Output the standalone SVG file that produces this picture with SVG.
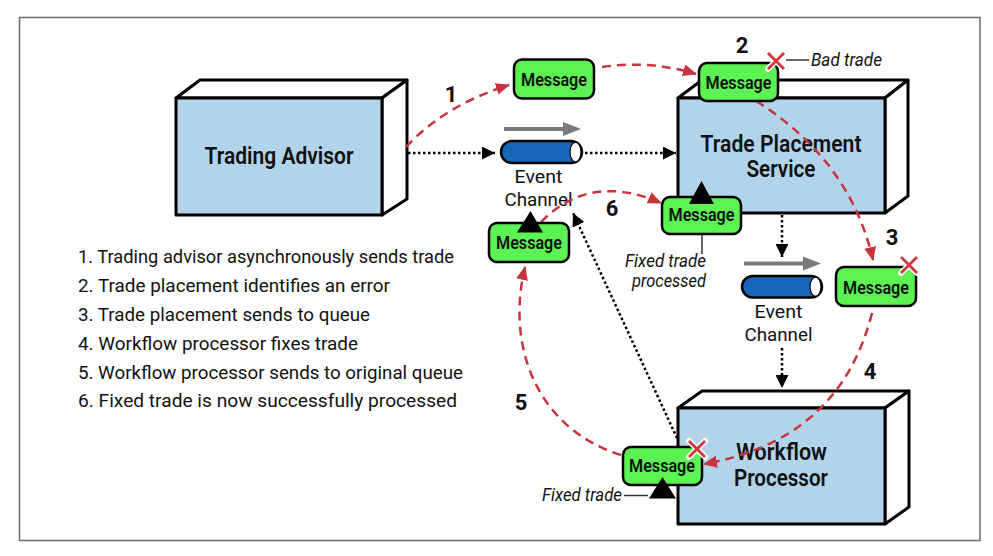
<svg xmlns="http://www.w3.org/2000/svg" width="993" height="556" viewBox="0 0 993 556">
<defs>
<style>
.box{fill:#b2d4ea;stroke:#000;stroke-width:3;stroke-linejoin:round}
.face{fill:#fff;stroke:#000;stroke-width:3;stroke-linejoin:round}
.lbl{font-family:Roboto,"Liberation Sans",sans-serif;font-weight:600;font-size:23px;fill:#111;text-anchor:middle}
.msg{fill:#5cf253;stroke:#000;stroke-width:2.5}
.mt{font-family:Roboto,"Liberation Sans",sans-serif;font-weight:600;font-size:19px;fill:#111;text-anchor:middle}
.ch{font-family:Roboto,"Liberation Sans",sans-serif;font-size:19px;fill:#111;text-anchor:middle}
.num{font-family:Roboto,"Liberation Sans",sans-serif;font-weight:700;font-size:22px;fill:#111;text-anchor:middle}
.it{font-family:Roboto,"Liberation Sans",sans-serif;font-style:italic;font-size:18px;fill:#111}
.list{font-family:Roboto,"Liberation Sans",sans-serif;font-size:18px;fill:#111}
.red{fill:none;stroke:#c9343c;stroke-width:2.5;stroke-dasharray:9 6;marker-end:url(#ra)}
.dot{fill:none;stroke:#000;stroke-width:2.5;stroke-dasharray:2.5 2.5;marker-end:url(#ba)}
.pipe{fill:#1766b8;stroke:#000;stroke-width:2.5}
.xw{stroke:#fff;stroke-width:6;stroke-linecap:round}
.xr{stroke:#d2363f;stroke-width:2.8}
.call{stroke:#333;stroke-width:1.5}
.garrow{stroke:#7a7a7a;stroke-width:4}
</style>
<marker id="ra" viewBox="0 0 14 12" refX="13" refY="6" markerWidth="14" markerHeight="12" markerUnits="userSpaceOnUse" orient="auto">
<path d="M0,0 L14,6 L0,12 z" fill="#c9343c"/>
</marker>
<marker id="ba" viewBox="0 0 13 13" refX="13" refY="6.5" markerWidth="13" markerHeight="13" markerUnits="userSpaceOnUse" orient="auto">
<path d="M0,0 L13,6.5 L0,13 z" fill="#000"/>
</marker>
</defs>
<rect x="0" y="0" width="993" height="556" fill="#fff"/>
<rect x="19.5" y="17.5" width="960.5" height="523" fill="none" stroke="#6d6d6d" stroke-width="1.5"/>

<g id="trading-advisor">
<polygon class="face" points="176,98 200,80 407,80 382,98"/>
<polygon class="face" points="382,98 407,80 407,199 382,215"/>
<rect class="box" x="176" y="98" width="206" height="117"/>
<text class="lbl" x="279" y="164" font-size="26" textLength="149" lengthAdjust="spacingAndGlyphs">Trading Advisor</text>
</g>

<g id="trade-placement">
<polygon class="face" points="678,98 702,80 908,80 885,98"/>
<polygon class="face" points="885,98 908,80 908,196 885,213"/>
<rect class="box" x="678" y="98" width="207" height="115"/>
<text class="lbl" x="781" y="152" textLength="161" lengthAdjust="spacingAndGlyphs">Trade Placement</text>
<text class="lbl" x="781" y="177" textLength="69" lengthAdjust="spacingAndGlyphs">Service</text>
</g>

<g id="workflow-processor">
<polygon class="face" points="678,408 702,391 909,391 885,408"/>
<polygon class="face" points="885,408 909,391 909,507 885,524"/>
<rect class="box" x="678" y="408" width="207" height="116"/>
<text class="lbl" x="781.5" y="460" textLength="91" lengthAdjust="spacingAndGlyphs">Workflow</text>
<text class="lbl" x="781" y="486" textLength="94" lengthAdjust="spacingAndGlyphs">Processor</text>
</g>

<g id="event-channel-1">
<line class="garrow" x1="504" y1="129" x2="566" y2="129"/>
<polygon points="563,122 581,129 563,136" fill="#7a7a7a"/>
<rect class="pipe" x="501" y="141" width="81" height="22" rx="11"/>
<ellipse cx="575.5" cy="152" rx="5.5" ry="9.8" fill="#fff" stroke="#000" stroke-width="1.2"/>
<text class="ch" x="538.5" y="183" textLength="48" lengthAdjust="spacingAndGlyphs">Event</text>
<text class="ch" x="538.5" y="206" textLength="68" lengthAdjust="spacingAndGlyphs">Channel</text>
</g>

<g id="event-channel-2">
<line class="garrow" x1="744" y1="263.5" x2="806" y2="263.5"/>
<polygon points="803,256.5 821,263.5 803,270.5" fill="#7a7a7a"/>
<rect class="pipe" x="742" y="276" width="80" height="21.5" rx="10.75"/>
<ellipse cx="815.5" cy="286.75" rx="5.5" ry="9.5" fill="#fff" stroke="#000" stroke-width="1.2"/>
<text class="ch" x="778.5" y="317.5" textLength="48" lengthAdjust="spacingAndGlyphs">Event</text>
<text class="ch" x="778.5" y="340.5" textLength="68" lengthAdjust="spacingAndGlyphs">Channel</text>
</g>

<g id="connectors">
<path class="dot" d="M408,153 L495,153"/>
<path class="dot" d="M585,153 L676,153"/>
<path class="dot" d="M782,215 L782,257"/>
<path class="dot" d="M782,348 L782,388"/>
<path class="dot" d="M677,438 L573,213"/>
<path class="red" d="M406,147 Q445,105 509,85"/>
<path class="red" d="M602,67 Q650,60 696,74"/>
<path class="red" d="M756,101 Q850,160 873,260"/>
<path class="red" d="M872,313 Q840,440 704,464"/>
<path class="red" d="M621,455 C540,430 505,350 525,267"/>
<path class="red" d="M541,222 Q590,172 661,203"/>
</g>

<g id="message-1">
<rect class="msg" x="514" y="59.5" width="80" height="39" rx="8"/>
<text class="mt" x="554" y="86" textLength="66" lengthAdjust="spacingAndGlyphs">Message</text>
</g>

<g id="message-2">
<rect class="msg" x="699" y="63" width="79" height="38" rx="8"/>
<text class="mt" x="738.5" y="88.5" textLength="66" lengthAdjust="spacingAndGlyphs">Message</text>
<line class="xw" x1="768" y1="53" x2="784" y2="69"/>
<line class="xw" x1="784" y1="53" x2="768" y2="69"/>
<line class="xr" x1="768" y1="53" x2="784" y2="69"/>
<line class="xr" x1="784" y1="53" x2="768" y2="69"/>
<line class="call" x1="786" y1="60" x2="809" y2="60"/>
<text class="it" x="811" y="66" textLength="71" lengthAdjust="spacingAndGlyphs">Bad trade</text>
</g>

<g id="message-3">
<rect class="msg" x="836" y="267" width="80" height="39" rx="8"/>
<text class="mt" x="876" y="293.5" textLength="66" lengthAdjust="spacingAndGlyphs">Message</text>
<line class="xw" x1="901" y1="257" x2="917" y2="273"/>
<line class="xw" x1="917" y1="257" x2="901" y2="273"/>
<line class="xr" x1="901" y1="257" x2="917" y2="273"/>
<line class="xr" x1="917" y1="257" x2="901" y2="273"/>
</g>

<g id="message-fixed-processed">
<rect class="msg" x="662" y="197" width="79" height="37" rx="8"/>
<polygon points="701.5,181 689,204 714,204" fill="#000"/>
<text class="mt" x="701.5" y="221" textLength="66" lengthAdjust="spacingAndGlyphs">Message</text>
<line class="call" x1="702" y1="235" x2="702" y2="254"/>
<text class="it" x="706" y="266.5" font-size="15" text-anchor="end" textLength="81" lengthAdjust="spacingAndGlyphs">Fixed trade</text>
<text class="it" x="706" y="286.5" font-size="15" text-anchor="end" textLength="74" lengthAdjust="spacingAndGlyphs">processed</text>
</g>

<g id="message-left">
<rect class="msg" x="489" y="223" width="80" height="39" rx="8"/>
<polygon points="530.5,211 517,232.5 543,232.5" fill="#000"/>
<text class="mt" x="529" y="248.5" textLength="66" lengthAdjust="spacingAndGlyphs">Message</text>
</g>

<g id="message-workflow">
<rect class="msg" x="623" y="447" width="79" height="38" rx="8"/>
<text class="mt" x="662" y="472" textLength="66" lengthAdjust="spacingAndGlyphs">Message</text>
<polygon points="662.5,477 649,498.5 676,498.5" fill="#000"/>
<line class="xw" x1="689" y1="441" x2="705" y2="457"/>
<line class="xw" x1="705" y1="441" x2="689" y2="457"/>
<line class="xr" x1="689" y1="441" x2="705" y2="457"/>
<line class="xr" x1="705" y1="441" x2="689" y2="457"/>
<line class="call" x1="624" y1="495.5" x2="648" y2="495.5"/>
<text class="it" x="542" y="501" textLength="80" lengthAdjust="spacingAndGlyphs">Fixed trade</text>
</g>

<g id="step-numbers">
<text class="num" x="451" y="102">1</text>
<text class="num" x="742" y="53">2</text>
<text class="num" x="892" y="244.5">3</text>
<text class="num" x="870" y="378.5">4</text>
<text class="num" x="521" y="410">5</text>
<text class="num" x="612" y="216">6</text>
</g>

<g id="legend">
<text class="list" x="78" y="263.3" textLength="376" lengthAdjust="spacingAndGlyphs">1. Trading advisor asynchronously sends trade</text>
<text class="list" x="78" y="292" textLength="312" lengthAdjust="spacingAndGlyphs">2. Trade placement identifies an error</text>
<text class="list" x="78" y="321" textLength="292" lengthAdjust="spacingAndGlyphs">3. Trade placement sends to queue</text>
<text class="list" x="78" y="350" textLength="280" lengthAdjust="spacingAndGlyphs">4. Workflow processor fixes trade</text>
<text class="list" x="78" y="378.5" textLength="385" lengthAdjust="spacingAndGlyphs">5. Workflow processor sends to original queue</text>
<text class="list" x="78" y="407" textLength="379" lengthAdjust="spacingAndGlyphs">6. Fixed trade is now successfully processed</text>
</g>
</svg>
